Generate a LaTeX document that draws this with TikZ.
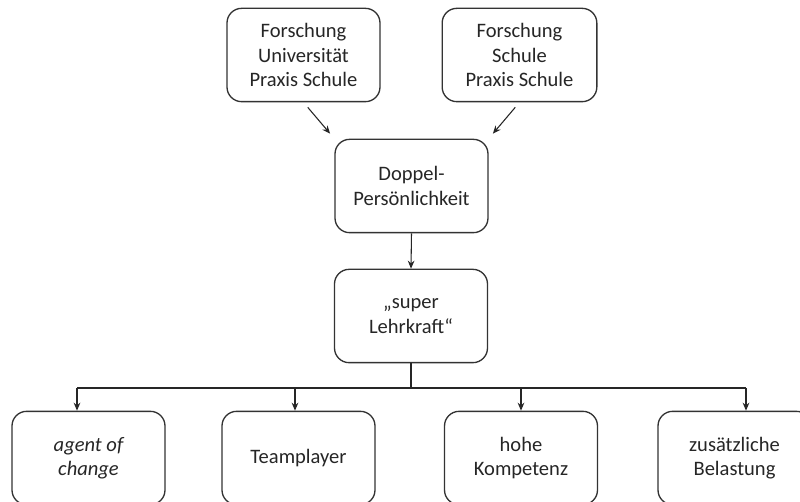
\documentclass[tikz,border=0pt]{standalone}
\usepackage{fontspec}
\setmainfont{Carlito}
\usetikzlibrary{arrows.meta}

\begin{document}
\begin{tikzpicture}[%
    x = 0.75pt, y = -0.75pt,
    box/.style = {draw = black!80, line width = 1pt, rounded corners = 11pt,
        minimum width = 114.75pt, minimum height = 70pt, align = center,
        text = black!85, font = \fontsize{15.4}{18.2}\selectfont},
    link/.style = {draw = black!85, line width = 0.8pt,
        -{Stealth[length = 6pt, width = 5pt]}}
]

        % Page frame, the bottom row runs off the edge.
        \clip (0, 0) rectangle (800, 502);
        \fill[white] (0, 0) rectangle (800, 502);

        % The two sources at the top.
        \node[box] (fu) at (303.5, 55) {Forschung\\Universität\\Praxis Schule};
        \node[box, minimum width = 116pt] (fs) at (519.5, 55) {Forschung\\Schule\\Praxis Schule};

        % Middle column.
        \node[box] (dp) at (411.5, 186) {Doppel-\\Persönlichkeit};
        \node[box] (sl) at (411, 316) {„super\\Lehrkraft“};

        % Bottom row.
        \node[box] (ag) at (88.5, 458) {\itshape agent of\\\itshape change};
        \node[box] (tp) at (298.5, 458) {Teamplayer};
        \node[box] (hk) at (521, 458) {hohe\\Kompetenz};
        \node[box] (zb) at (734.5, 458) {zusätzliche\\Belastung};

        % Diagonal arrows into the middle box.
        \draw[link, shorten <= 4.9pt, shorten >= 4.9pt] (fu.south) -- (dp.north west);
        \draw[link, shorten <= 4.9pt, shorten >= 4.9pt] (fs.south) -- (dp.north east);
        \draw[link] (dp.south) -- (sl.north);

        % Bus line to the bottom row.
        \coordinate (hub) at (411, 388);
        \coordinate (b1) at (77, 388);
        \coordinate (b2) at (295, 388);
        \coordinate (b3) at (521, 388);
        \coordinate (b4) at (746, 388);
        \draw[draw = black!85, line width = 0.8pt] (sl.south) -- (hub);
        \draw[draw = black!85, line width = 0.8pt] (b1) -- (b4);
        \draw[link] (b1) -- (b1 |- ag.north);
        \draw[link] (b2) -- (b2 |- tp.north);
        \draw[link] (b3) -- (b3 |- hk.north);
        \draw[link] (b4) -- (b4 |- zb.north);
    \end{tikzpicture}
\end{document}
